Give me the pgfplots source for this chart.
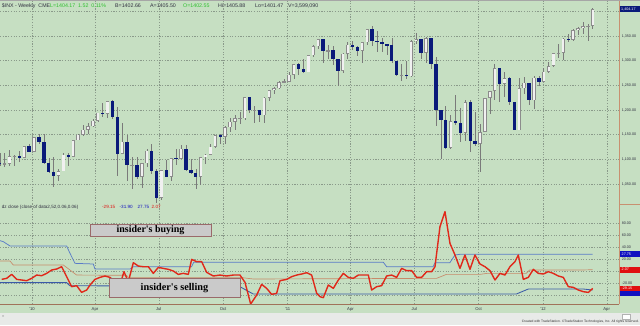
\documentclass[border=0pt]{standalone}
\usepackage{pgfplots}
\pgfplotsset{compat=1.18}
\usepackage{pgfplotstable}
\usepackage{fontspec}
\setmainfont{Liberation Sans}
\newfontfamily\boxfont{Liberation Serif}
\definecolor{bggreen}{HTML}{C6DFC2}
\definecolor{stripgray}{HTML}{E8EAE8}
\definecolor{gridc}{HTML}{8A9A8A}
\definecolor{navyc}{HTML}{0A1A7A}
\definecolor{upedge}{HTML}{8C8C8C}
\definecolor{upfill}{HTML}{F0F0F0}
\definecolor{wick}{HTML}{7A7A7A}
\definecolor{dzred}{HTML}{E0281A}
\definecolor{bandblue}{HTML}{5A7CC8}
\definecolor{lowblue}{HTML}{3A5AA8}
\definecolor{tanc}{HTML}{C88A6A}
\definecolor{framec}{HTML}{C89070}
\definecolor{hdrgreen}{HTML}{2EC02E}
\definecolor{txt}{HTML}{303040}
\definecolor{boxgray}{HTML}{CACACA}
\definecolor{boxedge}{HTML}{9A6A6A}
\definecolor{lblblue}{HTML}{1010C0}
\definecolor{lblred}{HTML}{E01010}

% S&P 500 weekly bars, x = day (0 = 1 Jan 2010), bar placed on the Monday
\pgfplotstableread{
d o h l c
-46 1093.5 1113.7 1085.9 1091.4
-39 1091.4 1112.4 1083.7 1091.5
-32 1091.5 1119.1 1086.3 1106.0
-25 1106.0 1108.8 1085.7 1106.4
-18 1106.4 1117.7 1095.3 1102.5
-11 1102.5 1126.5 1102.5 1126.5
-4 1126.5 1130.4 1114.8 1115.1
3 1115.1 1145.4 1115.1 1145.0
10 1145.0 1150.4 1131.4 1136.0
17 1136.0 1150.5 1090.2 1091.8
24 1091.8 1103.7 1071.6 1073.9
31 1073.9 1104.7 1044.5 1066.2
38 1066.2 1080.0 1056.5 1075.5
45 1075.5 1112.4 1075.5 1109.2
52 1109.2 1112.4 1086.0 1104.5
59 1104.5 1139.0 1104.0 1138.7
66 1138.7 1151.0 1138.2 1150.0
73 1150.0 1169.5 1147.0 1159.9
80 1159.9 1174.0 1152.0 1166.6
87 1166.6 1181.4 1165.0 1178.1
94 1178.1 1194.7 1175.0 1194.4
101 1194.4 1213.9 1186.8 1192.1
108 1192.1 1217.3 1183.7 1217.3
115 1217.3 1219.8 1181.6 1186.7
122 1186.7 1205.1 1065.8 1110.9
129 1110.9 1173.6 1110.0 1135.7
136 1135.7 1148.7 1055.9 1087.7
143 1087.7 1104.0 1040.8 1089.4
150 1089.4 1105.7 1060.0 1064.9
157 1064.9 1092.7 1042.2 1091.6
164 1091.6 1120.0 1084.0 1117.5
171 1117.5 1131.2 1070.0 1076.8
178 1076.8 1081.0 1010.9 1022.6
185 1022.6 1078.2 1018.4 1078.0
192 1078.0 1099.1 1063.3 1064.9
199 1064.9 1103.0 1056.9 1102.7
206 1102.7 1120.0 1088.0 1101.6
213 1101.6 1128.8 1101.6 1121.6
220 1121.6 1129.2 1076.6 1079.3
227 1079.3 1100.1 1069.4 1071.7
234 1071.7 1081.1 1039.7 1064.6
241 1064.6 1105.1 1047.7 1104.5
248 1104.5 1110.9 1091.0 1109.6
255 1109.6 1131.5 1108.2 1125.6
262 1125.6 1148.9 1122.3 1148.7
269 1148.7 1150.4 1131.9 1146.2
276 1146.2 1167.7 1131.1 1165.2
283 1165.2 1184.4 1155.7 1176.2
290 1176.2 1189.4 1159.7 1183.1
297 1183.1 1196.1 1171.7 1183.3
304 1183.3 1227.1 1180.7 1225.9
311 1225.9 1227.1 1194.2 1199.2
318 1199.2 1207.4 1173.0 1199.7
325 1199.7 1200.3 1176.0 1189.4
332 1189.4 1225.6 1173.6 1224.7
339 1224.7 1240.9 1218.0 1240.4
346 1240.4 1246.7 1232.9 1243.9
353 1243.9 1259.4 1242.0 1256.8
360 1256.8 1262.6 1254.0 1257.6
367 1257.6 1276.2 1257.6 1271.5
374 1271.5 1293.2 1262.2 1293.2
381 1293.2 1296.1 1271.3 1283.4
388 1283.4 1302.7 1275.1 1276.3
395 1276.3 1311.0 1276.3 1310.9
402 1310.9 1330.8 1307.0 1329.2
409 1329.2 1344.1 1324.6 1343.0
416 1343.0 1343.0 1294.3 1319.9
423 1319.9 1332.3 1302.6 1321.2
430 1321.2 1330.0 1291.0 1304.3
437 1304.3 1304.3 1249.1 1279.2
444 1279.2 1315.9 1276.0 1313.8
451 1313.8 1337.9 1304.0 1332.4
458 1332.4 1339.5 1322.0 1328.2
465 1328.2 1329.0 1309.0 1319.7
472 1319.7 1337.5 1294.7 1337.4
479 1337.4 1364.6 1331.0 1363.6
486 1363.6 1370.6 1329.2 1340.2
493 1340.2 1359.4 1318.5 1337.8
500 1337.8 1346.8 1318.0 1333.3
507 1333.3 1334.6 1311.8 1331.1
514 1331.1 1345.2 1296.0 1300.2
521 1300.2 1300.2 1268.0 1271.0
528 1271.0 1292.5 1258.1 1271.5
535 1271.5 1298.6 1262.7 1268.5
542 1268.5 1341.0 1267.1 1339.7
549 1339.7 1356.5 1333.0 1343.8
556 1343.8 1344.0 1303.3 1316.1
563 1316.1 1347.0 1295.9 1345.0
570 1345.0 1345.0 1282.9 1292.3
577 1292.3 1307.4 1168.1 1199.4
584 1199.4 1199.4 1101.5 1178.8
591 1178.8 1208.5 1121.1 1123.5
598 1123.5 1190.7 1121.1 1176.8
605 1176.8 1230.7 1170.0 1174.0
612 1174.0 1204.4 1136.1 1154.2
619 1154.2 1220.1 1136.2 1216.0
626 1216.0 1220.4 1114.2 1136.4
633 1136.4 1195.9 1128.0 1131.4
640 1131.4 1171.4 1074.8 1155.5
647 1155.5 1224.6 1155.5 1224.6
654 1224.6 1239.0 1191.5 1238.3
661 1238.3 1292.7 1221.1 1285.1
668 1285.1 1285.1 1215.4 1253.2
675 1253.2 1277.6 1226.6 1263.9
682 1263.9 1266.0 1209.4 1215.7
689 1215.7 1215.7 1158.7 1158.7
696 1158.7 1264.3 1158.7 1244.3
703 1244.3 1267.1 1231.5 1255.2
710 1255.2 1255.2 1209.5 1219.7
717 1219.7 1269.4 1202.4 1265.3
724 1265.3 1269.4 1248.6 1257.6
731 1257.6 1284.6 1257.6 1277.8
738 1277.8 1296.8 1274.0 1289.1
745 1289.1 1315.5 1287.0 1315.4
752 1315.4 1333.5 1306.1 1316.3
759 1316.3 1345.3 1300.5 1344.9
766 1344.9 1354.3 1337.5 1342.6
773 1342.6 1363.4 1340.0 1361.2
780 1361.2 1368.1 1352.3 1365.7
787 1365.7 1378.0 1354.9 1369.6
794 1369.6 1374.0 1340.0 1370.9
801 1370.9 1405.9 1365.0 1404.2
}\spx

\pgfplotstableread{
d v
-43.3 -14.1
-36.2 -12.4
-29.0 -5.8
-21.9 -14.1
-14.8 -15.2
-7.6 -16.3
-0.5 -12.4
6.7 -6.9
13.8 -8.0
21.0 -4.1
28.1 1.5
35.2 3.1
42.4 7.0
49.5 -9.6
56.6 -26.3
63.8 -24.6
70.9 -35.8
78.1 -31.9
82.9 -23.5
90.0 -14.1
97.1 -10.8
104.3 -8.5
111.4 -10.8
118.6 -18.0
125.7 -23.5
131.4 -1.3
137.6 -18.0
144.8 13.7
151.9 8.1
159.0 7.0
166.2 7.0
173.3 -4.1
180.5 5.9
187.6 4.2
194.8 2.6
201.9 -0.2
209.0 -5.8
216.2 -4.1
223.3 -5.8
228.1 19.2
235.2 15.4
242.4 15.4
249.5 -2.4
259.0 -8.5
268.6 -6.9
278.1 -8.5
287.6 -6.9
297.1 -6.9
304.3 -19.1
312.4 -55.2
321.0 -40.2
328.1 -22.4
335.2 -29.1
342.4 -39.1
349.5 -37.4
354.3 -16.3
363.8 -14.1
371.0 -9.6
378.1 -6.9
385.2 -5.2
392.4 -3.0
399.5 -6.9
406.7 -37.4
411.4 -43.0
416.2 -44.6
423.3 -23.5
430.5 -29.1
437.6 -15.2
444.7 -4.1
451.9 -10.8
459.0 -12.4
466.2 -6.9
473.3 -6.9
480.5 -6.9
485.2 -31.9
492.4 -26.3
499.5 -24.6
506.6 -8.5
513.8 -6.9
520.9 -10.8
528.1 4.2
535.2 0.4
542.4 0.4
549.5 -10.8
556.6 -10.8
563.8 -1.3
570.9 -1.3
575.7 7.0
582.8 73.7
590.0 98.7
597.1 45.9
604.3 26.5
611.4 4.2
618.5 26.5
625.7 2.6
632.8 26.5
640.0 11.5
647.1 7.0
654.3 0.4
661.4 -15.2
668.6 -4.1
675.7 -6.9
682.8 7.0
690.0 15.4
694.7 26.5
701.9 -14.1
709.0 -10.8
716.2 2.6
723.3 -4.1
730.5 -5.2
737.6 -1.3
744.7 -4.1
751.9 -8.5
759.0 -10.8
766.2 -26.3
773.3 -27.4
780.5 -31.9
787.6 -34.6
794.8 -35.8
801.0 -29.15
}\dz

\pgfplotstableread{
d v
-45.7 50.4
-40.9 48.7
-31.4 41.5
49.5 41.5
54.0 30.0
61.4 12.6
87.6 11.5
90.0 3.1
140.0 3.1
145.0 7.0
228.0 7.0
231.0 14.3
502.0 14.3
506.6 7.0
573.0 7.0
575.7 13.7
597.0 13.7
604.3 26.5
612.0 27.75
801.0 27.75
}\upband

\pgfplotstableread{
d v
-45.7 16.5
-31.4 16.5
-26.7 9.8
44.8 9.8
63.8 -6.9
135.0 -7.4
137.6 -10.8
297.0 -10.8
316.0 -13.5
578.0 -12.4
592.0 -5.8
640.0 -5.8
650.0 -4.1
706.0 -4.1
711.0 1.5
787.6 1.5
801.0 2.07
}\midline

\pgfplotstableread{
d v
-45.7 -19.6
49.5 -19.6
54.0 -24.6
297.0 -26.3
316.0 -38.5
692.0 -38.5
709.0 -30.2
787.6 -30.2
801.0 -31.9
}\lowband

\pgfplotsset{
  chartstyle/.style={
    scale only axis, anchor=south west, width=619bp,
    xmin=-45.7, xmax=838.6,
    axis line style={draw=none}, major tick length=0pt,
    xtick={0,90,181,273,365,455,546,638,730,821},
    yticklabel pos=right,
    grid=major,
    major grid style={gridc, dash pattern=on 1.2bp off 1.5bp, line width=0.35bp},
    extra tick style={grid=major, major tick length=0pt},
    yticklabel style={anchor=west, inner sep=0pt, xshift=2.6bp,
      font=\fontsize{3.7}{4}\selectfont, text=txt},
    /pgf/number format/assume math mode=true,
    yticklabel={\pgfmathprintnumber[fixed,fixed zerofill,precision=2,1000 sep={,}]{\tick}},
  },
  candle/.style={draw=none, forget plot,
    error bars/y dir=both, error bars/y explicit, error bars/error mark=none},
}

\begin{document}
\begin{tikzpicture}[x=1bp,y=1bp]
\useasboundingbox (0,0) rectangle (640,325);
\fill[bggreen] (0,12) rectangle (640,325);
\fill[stripgray] (0,0) rectangle (640,12);

% ---------- price panel ----------
\begin{axis}[chartstyle, at={(0bp,121bp)}, height=203bp,
  ymin=1009.46, ymax=1420.95,
  ytick={1050,1100,1150,1200,1250,1300,1350},
  extra y ticks={1400}, extra y tick labels={},
  xticklabels={}]
  % wicks
  \addplot[candle, error bars/error bar style={draw=wick, line width=0.55bp}]
    table[x=d, y expr={(\thisrow{h}+\thisrow{l})/2},
          y error expr={(\thisrow{h}-\thisrow{l})/2}] {\spx};
  % rising bars: outline then light fill
  \addplot[candle, restrict expr to domain={\thisrow{c}-\thisrow{o}}{0:2000},
    error bars/error bar style={draw=upedge, line width=3.4bp, line cap=butt}]
    table[x=d, y expr={(\thisrow{o}+\thisrow{c})/2},
          y error expr={max(abs(\thisrow{c}-\thisrow{o})/2,0.7)}] {\spx};
  \addplot[candle, restrict expr to domain={\thisrow{c}-\thisrow{o}}{0:2000},
    error bars/error bar style={draw=upfill, line width=2.2bp, line cap=butt}]
    table[x=d, y expr={(\thisrow{o}+\thisrow{c})/2},
          y error expr={max(abs(\thisrow{c}-\thisrow{o})/2-1.3,0)}] {\spx};
  % falling bars
  \addplot[candle, restrict expr to domain={\thisrow{o}-\thisrow{c}}{0.001:2000},
    error bars/error bar style={draw=navyc, line width=3.4bp, line cap=butt}]
    table[x=d, y expr={(\thisrow{o}+\thisrow{c})/2},
          y error expr={max(abs(\thisrow{c}-\thisrow{o})/2,0.7)}] {\spx};
\end{axis}

% ---------- indicator panel ----------
\begin{axis}[chartstyle, at={(0bp,21bp)}, height=100bp,
  ymin=-55.17, ymax=111.5,
  ytick={-40,-20,20,40,60,80},
  extra y ticks={0}, extra y tick labels={},
  xticklabels={'10,Apr,Jul,Oct,'11,Apr,Jul,Oct,'12,Apr},
  xticklabel style={anchor=base, yshift=-6.6bp, font=\fontsize{4.2}{5}\selectfont, text=txt}]
  \addplot[bandblue, line width=0.75bp] table[x=d,y=v] {\upband};
  \addplot[tanc, line width=0.65bp] table[x=d,y=v] {\midline};
  \addplot[lowblue, line width=0.85bp] table[x=d,y=v] {\lowband};
  \addplot[dzred, line width=1.4bp, line join=round] table[x=d,y=v] {\dz};
\end{axis}

% frame lines
\draw[framec, line width=0.6bp] (619,21) -- (619,325);
\draw[framec!80!black, line width=0.5bp] (0,21) -- (619,21);
\draw[framec, line width=0.5bp] (619,121) -- (640,121);
\draw[gray!70, line width=0.6bp] (0,324.7) -- (640,324.7);

% header
\begin{scope}[every node/.style={anchor=base west, inner sep=0pt, font=\fontsize{5.3}{6}\selectfont}]
\node[text=txt] at (1.7,318) {\$INX - Weekly\ \ CME};
\node[text=hdrgreen] at (50,318) {L=1404.17\ \ 1.52\ \ 0.11\%};
\node[text=txt] at (115,318) {B=1402.66};
\node[text=txt] at (150,318) {A=1405.50};
\node[text=hdrgreen] at (183,318) {O=1402.55};
\node[text=txt] at (218,318) {Hi=1405.88};
\node[text=txt] at (255,318) {Lo=1401.47};
\node[text=txt] at (288,318) {V=3,599,090};
\end{scope}

% indicator legend
\begin{scope}[every node/.style={anchor=base west, inner sep=0pt, font=\fontsize{4.6}{5}\selectfont}]
\node[text=txt] at (1.7,116.6) {dz close (close of data2,52,0.06,0.06)};
\node[text=lblred] at (102,116.6) {-29.15};
\node[text=lblblue] at (119.5,116.6) {-31.90};
\node[text=lblblue] at (137.5,116.6) {27.75};
\node[text=lblred] at (151.5,116.6) {2.07};
\end{scope}

% right-hand value boxes
\begin{scope}[every node/.style={anchor=west, inner sep=0pt, font=\fontsize{3.7}{4}\selectfont, text=white}]
\fill[navyc] (619.6,312.7) rectangle (640,318.7);
\node at (621,315.7) {1,404.17};
\fill[lblblue] (619.6,67.9) rectangle (640,73.6);
\node at (621.5,70.75) {27.75};
\fill[lblred] (619.6,52.5) rectangle (640,58.1);
\node at (621.5,55.3) {2.07};
\fill[lblblue] (619.6,29.5) rectangle (640,35);
\fill[lblred] (619.6,33.8) rectangle (640,39.4);
\node at (621.5,36.6) {-29.15};
\end{scope}

% annotation boxes
\node[draw=boxedge, fill=boxgray, line width=0.8bp, minimum width=121bp, minimum height=12bp,
  inner sep=0pt, font=\boxfont\bfseries\fontsize{10}{11}\selectfont]
  at (150.5,95) {insider's buying};
\node[draw=boxedge, fill=boxgray, line width=0.8bp, minimum width=131bp, minimum height=18.5bp,
  inner sep=0pt, font=\boxfont\bfseries\fontsize{10.3}{11}\selectfont]
  at (174.5,37.3) {insider's selling};

% bottom strip
\node[anchor=base east, inner sep=0pt, font=\fontsize{3.3}{4}\selectfont, text=black!80]
  at (639,2.2) {Created with TradeStation. \textcopyright TradeStation Technologies, Inc. All rights reserved.};
\draw[gray!60, fill=white] (622.5,5.5) rectangle (630,11);
\node[anchor=west, inner sep=0pt, font=\fontsize{4}{4}\selectfont, text=gray] at (2,8) {«};
\end{tikzpicture}
\end{document}
